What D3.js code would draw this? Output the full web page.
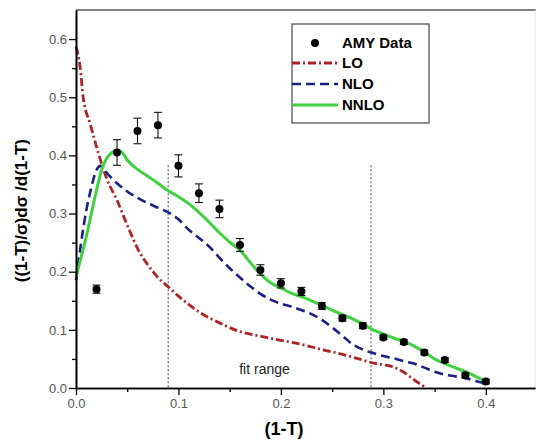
<!DOCTYPE html>
<html>
<head>
<meta charset="utf-8">
<script src="https://cdn.jsdelivr.net/npm/d3@7"></script>
<style>
  body { margin: 0; background: #fff; }
  svg { font-family: Arial, "Liberation Sans", sans-serif; }
</style>
</head>
<body>
<div id="chart"></div>
<script>
// AMY data points
let amy_x = [0.02,0.04,0.06,0.08,0.10,0.12,0.14,0.16,0.18,0.20,0.22,0.24,0.26,0.28,0.30,0.32,0.34,0.36,0.38,0.40];
let amy_y = [0.170,0.405,0.442,0.452,0.382,0.335,0.308,0.246,0.203,0.180,0.166,0.141,0.120,0.107,0.087,0.079,0.061,0.048,0.022,0.011];
let amy_err = [0.007,0.022,0.022,0.022,0.019,0.016,0.015,0.011,0.009,0.008,0.007,0.006,0.005,0.005,0.004,0.004,0.004,0.004,0.004,0.004];

// theory curves
let lo_x = [0,0.004,0.007,0.0137,0.02,0.026,0.03,0.04,0.05,0.0625,0.07,0.08,0.09,0.10,0.12,0.14,0.16,0.18,0.20,0.22,0.24,0.26,0.28,0.29,0.30,0.31,0.32,0.33,0.342];
let lo_y = [0.587,0.552,0.50,0.455,0.415,0.38,0.36,0.323,0.28,0.232,0.212,0.19,0.174,0.158,0.131,0.112,0.097,0.089,0.082,0.075,0.066,0.058,0.048,0.043,0.040,0.036,0.027,0.014,0.0];

let nlo_x = [0,0.005,0.01,0.015,0.02,0.024,0.03,0.04,0.05,0.06,0.07,0.08,0.09,0.10,0.11,0.12,0.13,0.14,0.15,0.16,0.17,0.18,0.19,0.20,0.21,0.22,0.23,0.24,0.25,0.26,0.27,0.28,0.29,0.30,0.31,0.32,0.33,0.34,0.35,0.36,0.37,0.38,0.39,0.40];
let nlo_y = [0.185,0.25,0.305,0.345,0.375,0.382,0.37,0.352,0.338,0.327,0.318,0.31,0.302,0.29,0.272,0.258,0.243,0.224,0.206,0.19,0.175,0.162,0.152,0.145,0.14,0.134,0.127,0.117,0.104,0.09,0.075,0.066,0.06,0.055,0.051,0.046,0.042,0.035,0.028,0.023,0.02,0.017,0.012,0.008];

let nnlo_x = [0,0.005,0.01,0.015,0.02,0.025,0.03,0.035,0.04,0.045,0.05,0.06,0.07,0.08,0.09,0.10,0.11,0.12,0.13,0.14,0.15,0.16,0.17,0.18,0.19,0.20,0.21,0.22,0.23,0.24,0.25,0.26,0.27,0.28,0.29,0.30,0.31,0.32,0.33,0.34,0.35,0.36,0.37,0.38,0.39,0.40];
let nnlo_y = [0.19,0.225,0.26,0.3,0.34,0.375,0.395,0.405,0.409,0.405,0.392,0.376,0.364,0.352,0.339,0.329,0.317,0.302,0.285,0.267,0.251,0.237,0.216,0.196,0.181,0.172,0.163,0.157,0.150,0.142,0.134,0.126,0.119,0.110,0.100,0.093,0.086,0.080,0.072,0.062,0.050,0.042,0.035,0.028,0.020,0.011];

let series_names = ["LO","NLO","NNLO"];
let fit_lines = [0.09, 0.288];
let x_ticks = [0.0,0.1,0.2,0.3,0.4];
let y_ticks = [0.0,0.1,0.2,0.3,0.4,0.5,0.6];

let w = 536, h = 441;
let m_left = 76, m_right = 535, m_top = 10, m_bottom = 388;

const x_scale = d3.scaleLinear().domain([0, 0.448]).range([m_left, m_right]);
const y_scale = d3.scaleLinear().domain([0, 0.65]).range([m_bottom, m_top]);

const svg = d3.select("#chart").append("svg")
      .attr("width", w).attr("height", h);

// frame (top and right)
svg.append("line").attr("x1", m_left).attr("x2", w).attr("y1", m_top).attr("y2", m_top)
  .attr("stroke", "#808080").attr("stroke-width", 2);
svg.append("line").attr("x1", m_right).attr("x2", m_right).attr("y1", m_top).attr("y2", m_bottom)
  .attr("stroke", "#e4e4e4").attr("stroke-width", 1);

// fit range lines
svg.selectAll(".fit")
  .data(fit_lines)
  .enter()
  .append("line")
  .attr("x1", d => x_scale(d)).attr("x2", d => x_scale(d))
  .attr("y1", y_scale(0.383)).attr("y2", m_bottom)
  .attr("stroke", "#666").attr("stroke-width", 1.2)
  .attr("stroke-dasharray", "2,2");

svg.append("text")
  .attr("x", x_scale(0.184)).attr("y", y_scale(0.024))
  .attr("text-anchor", "middle")
  .attr("font-size", 14).attr("fill", "#222")
  .text("fit range");

// curves
let line = d3.line().x(d => x_scale(d[0])).y(d => y_scale(d[1])).curve(d3.curveMonotoneX);
let curve_style = {
  LO:   {color: "#ad2426", width: 2.8, dash: "8,3,2,3", xs: lo_x, ys: lo_y},
  NLO:  {color: "#1c1f86", width: 2.6, dash: "9,5", xs: nlo_x, ys: nlo_y},
  NNLO: {color: "#3fd13f", width: 3, dash: null, xs: nnlo_x, ys: nnlo_y}
};

series_names.forEach(name => {
  let s = curve_style[name];
  svg.append("path")
    .datum(d3.zip(s.xs, s.ys))
    .attr("d", line)
    .attr("fill", "none")
    .attr("stroke", s.color)
    .attr("stroke-width", s.width)
    .attr("stroke-dasharray", s.dash);
});

// data with error bars
let pts = d3.zip(amy_x, amy_y, amy_err);
let eb = svg.append("g").attr("stroke", "#111").attr("stroke-width", 1.1);
eb.selectAll(".v").data(pts).enter().append("line")
  .attr("x1", d => x_scale(d[0])).attr("x2", d => x_scale(d[0]))
  .attr("y1", d => y_scale(d[1] - d[2])).attr("y2", d => y_scale(d[1] + d[2]));
eb.selectAll(".t").data(pts).enter().append("line")
  .attr("x1", d => x_scale(d[0]) - 4).attr("x2", d => x_scale(d[0]) + 4)
  .attr("y1", d => y_scale(d[1] + d[2])).attr("y2", d => y_scale(d[1] + d[2]));
eb.selectAll(".b").data(pts).enter().append("line")
  .attr("x1", d => x_scale(d[0]) - 4).attr("x2", d => x_scale(d[0]) + 4)
  .attr("y1", d => y_scale(d[1] - d[2])).attr("y2", d => y_scale(d[1] - d[2]));
svg.selectAll(".pt").data(pts).enter().append("circle")
  .attr("cx", d => x_scale(d[0])).attr("cy", d => y_scale(d[1]))
  .attr("r", 4).attr("fill", "#000");

// axes
const y_axis = svg.append('g')
  .attr('transform', `translate(${m_left}, 0)`)
  .call(d3.axisLeft(y_scale).tickValues(y_ticks).tickSize(7).tickSizeOuter(0).tickFormat(d3.format(".1f")));
svg.append('g')
  .attr('transform', `translate(${m_left}, 0)`)
  .call(d3.axisLeft(y_scale).tickValues(d3.range(0.05, 0.65, 0.1)).tickSize(4).tickSizeOuter(0).tickFormat(''));

const x_axis = svg.append('g')
  .attr('transform', `translate(0, ${m_bottom})`)
  .call(d3.axisBottom(x_scale).tickValues(x_ticks).tickSize(7).tickSizeOuter(0).tickFormat(d3.format(".1f")));
svg.append('g')
  .attr('transform', `translate(0, ${m_bottom})`)
  .call(d3.axisBottom(x_scale).tickValues(d3.range(0.05, 0.45, 0.1)).tickSize(4).tickSizeOuter(0).tickFormat(''));

svg.selectAll(".domain").attr("stroke", "#000").attr("stroke-width", 1.6);
svg.selectAll(".tick line").attr("stroke", "#000").attr("stroke-width", 1.3);
svg.selectAll(".tick text").attr("font-size", 13).attr("fill", "#555")
  .attr("font-family", "Arial, 'Liberation Sans', sans-serif");
y_axis.selectAll(".tick text").attr("x", -9);
x_axis.selectAll(".tick text").attr("y", 11);

// axis titles
svg.append("text")
  .attr("x", x_scale(0.2) + 3).attr("y", 435)
  .attr("text-anchor", "middle")
  .attr("font-size", 18).attr("font-weight", "bold")
  .text("(1-T)");
svg.append("text")
  .attr("transform", `translate(27, ${y_scale(0.305)}) rotate(-90)`)
  .attr("text-anchor", "middle")
  .attr("font-size", 17).attr("font-weight", "bold")
  .text("((1-T)/σ)dσ /d(1-T)");

// legend
let lg = svg.append("g").attr("transform", "translate(292, 24)");
lg.append("rect").attr("width", 137).attr("height", 99)
  .attr("fill", "#fff").attr("stroke", "#555").attr("stroke-width", 1.3);
lg.append("circle").attr("cx", 23).attr("cy", 19).attr("r", 4).attr("fill", "#000");
lg.append("text").attr("x", 50).attr("y", 24).attr("font-size", 15).attr("font-weight", "bold").text("AMY Data");
series_names.forEach((name, i) => {
  let s = curve_style[name];
  let yy = 39 + i * 21;
  lg.append("line").attr("x1", 0).attr("x2", 46).attr("y1", yy).attr("y2", yy)
    .attr("stroke", s.color).attr("stroke-width", s.width).attr("stroke-dasharray", s.dash);
  lg.append("text").attr("x", 50).attr("y", yy + 5).attr("font-size", 15).attr("font-weight", "bold").text(name);
});
</script>
</body>
</html>
